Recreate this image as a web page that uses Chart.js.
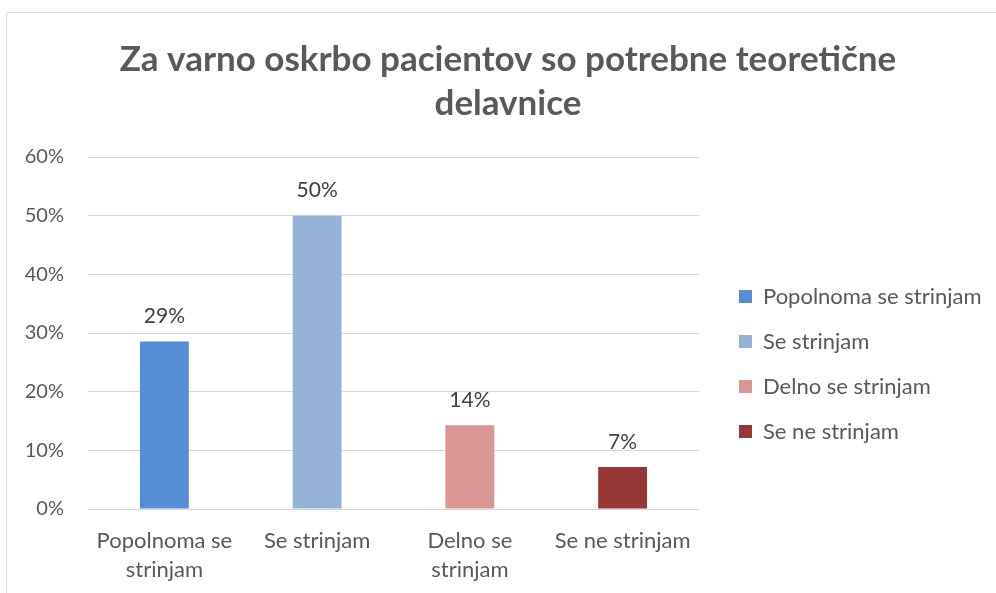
<!DOCTYPE html>
<html><head><meta charset="utf-8">
<script src="https://cdn.jsdelivr.net/npm/chart.js@4.4.1/dist/chart.umd.min.js"></script>
<style>
html,body{margin:0;padding:0;background:#fff;overflow:hidden;width:996px;height:593px;}
#frame{position:absolute;left:6px;top:12px;width:1002px;height:600px;border:1px solid #d9d9d9;background:#fff;}
canvas{display:block;}
</style></head><body>
<div id="frame"><canvas id="c" width="1002" height="580"></canvas></div>
<script>
const titleLines = ["Za varno oskrbo pacientov so potrebne teoretične", "delavnice"];
const categories = ["Popolnoma se strinjam", "Se strinjam", "Delno se strinjam", "Se ne strinjam"];
const tickLabels = [["Popolnoma se", "strinjam"], ["Se strinjam"], ["Delno se", "strinjam"], ["Se ne strinjam"]];
const values = [28.57, 50, 14.29, 7.14];
const barColors = ["#558ED5", "#95B3D7", "#D99694", "#953735"];
const yMin = 0, yMax = 60, yStep = 10;

const FONT = "Lato, 'Open Sans', sans-serif";
const TEXT = "#595959";

const dataLabelPlugin = {
  id: 'dataLabels',
  afterDatasetsDraw(chart) {
    const ctx = chart.ctx;
    const meta = chart.getDatasetMeta(0);
    ctx.save();
    ctx.font = "21px " + FONT;
    ctx.fillStyle = "#404040";
    ctx.textAlign = "center";
    ctx.textBaseline = "middle";
    meta.data.forEach((bar, i) => {
      ctx.fillText(Math.round(values[i]) + "%", bar.x, bar.y - 25);
    });
    ctx.restore();
  }
};

const legendPlace = {
  id: 'legendPlace',
  beforeLayout(chart) {
    const lg = chart.legend;
    if (lg && !lg._fitPatched) {
      const orig = lg.fit;
      lg.fit = function () { orig.call(this); this.width = 310; };
      lg._fitPatched = true;
    }
  },
  afterLayout(chart) {
    const lg = chart.legend;
    if (!lg) return;
    lg.left += 17; lg.right += 17;
    lg.top += 31; lg.bottom += 31;
  }
};

function draw() {
  new Chart(document.getElementById('c'), {
    type: 'bar',
    data: {
      labels: tickLabels,
      datasets: [{
        data: values,
        backgroundColor: barColors,
        borderWidth: 0,
        barPercentage: 1,
        categoryPercentage: 0.32
      }]
    },
    options: {
      responsive: false,
      animation: false,
      devicePixelRatio: 1,
      layout: { padding: 0 },
      plugins: {
        tooltip: { enabled: false },
        title: {
          display: true,
          text: titleLines,
          color: TEXT,
          font: { family: FONT, size: 35, weight: 'bold', lineHeight: 44 / 35 },
          padding: { top: 25, bottom: 31 }
        },
        legend: {
          display: true,
          position: 'right',
          fullSize: false,
          align: 'center',
          labels: {
            color: TEXT,
            font: { family: FONT, size: 22 },
            boxWidth: 13,
            boxHeight: 13,
            padding: 23,
            generateLabels: () => categories.map((c, i) => ({
              text: c, fillStyle: barColors[i], strokeStyle: barColors[i],
              lineWidth: 0, hidden: false, index: i, fontColor: TEXT
            }))
          }
        }
      },
      scales: {
        x: {
          grid: { display: false },
          border: { display: false },
          ticks: { color: TEXT, font: { family: FONT, size: 22, lineHeight: 29 / 22 }, padding: 9, maxRotation: 0, autoSkip: false },
          afterFit(s) { s.height = 84; }
        },
        y: {
          min: yMin, max: yMax,
          grid: { color: '#D9D9D9', lineWidth: 1, drawTicks: false },
          border: { display: false },
          ticks: { stepSize: yStep, color: TEXT, font: { family: FONT, size: 20 }, padding: 24, callback: v => v + '%' },
          afterFit(s) { s.width = 81; }
        }
      }
    },
    plugins: [dataLabelPlugin, legendPlace]
  });
}

Promise.all([
  document.fonts.load("20px Lato"),
  document.fonts.load("bold 35px Lato")
]).then(draw, draw);
</script>
</body></html>
